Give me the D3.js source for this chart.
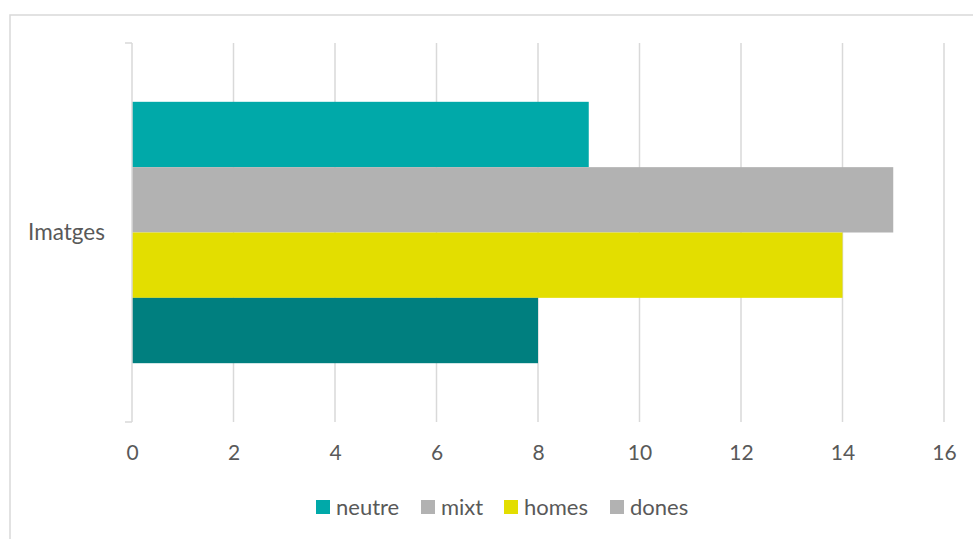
<!DOCTYPE html>
<html>
<head>
<meta charset="utf-8">
<script src="https://cdn.jsdelivr.net/npm/d3@7"></script>
<style>
  html, body { margin: 0; padding: 0; background: #ffffff; }
  svg { display: block; }
  text { font-family: Lato, "Open Sans", sans-serif; fill: #595959; }
</style>
</head>
<body>
<svg id="chart" width="973" height="539"></svg>
<script>
// Chart data
const categories = ["Imatges"];
const seriesNames = ["neutre", "mixt", "homes", "dones"];
const seriesValues = [9, 15, 14, 8];           // one value per series for "Imatges"
const barColors = ["#00A9A9", "#B2B2B2", "#E3DE00", "#007F7F"];
const legendColors = ["#00A9A9", "#B2B2B2", "#E3DE00", "#B2B2B2"];
const xTicks = [0, 2, 4, 6, 8, 10, 12, 14, 16];

const svg = d3.select("#chart");
const W = 973, H = 539;

// outer chart frame
svg.append("rect")
  .attr("x", 10).attr("y", 15)
  .attr("width", W + 10).attr("height", H + 10)
  .attr("fill", "#ffffff")
  .attr("stroke", "#D9D9D9")
  .attr("stroke-width", 1.5);

const plot = { left: 132, right: 944, top: 43, bottom: 422 };

const x = d3.scaleLinear().domain([0, 16]).range([plot.left, plot.right]);
const y = d3.scaleBand().domain(categories).range([plot.top, plot.bottom])
  .paddingInner(0).paddingOuter(0.225);
const ySeries = d3.scaleBand().domain(seriesNames).range([0, y.bandwidth()]).padding(0);

// vertical gridlines
svg.append("g")
  .selectAll("line")
  .data(xTicks.filter(d => d > 0))
  .join("line")
  .attr("x1", d => x(d)).attr("x2", d => x(d))
  .attr("y1", plot.top).attr("y2", plot.bottom)
  .attr("stroke", "#D9D9D9").attr("stroke-width", 1.5);

// x tick labels
const xAxis = d3.axisBottom(x).tickValues(xTicks).tickSize(0).tickPadding(0);
const gx = svg.append("g")
  .attr("transform", `translate(0,${plot.bottom + 38})`)
  .call(xAxis);
gx.select(".domain").remove();
gx.selectAll("text")
  .attr("dy", 0)
  .style("font-size", "21px")
  .style("font-family", "Lato, 'Open Sans', sans-serif")
  .attr("fill", "#595959");

// bars
const group = svg.append("g");
categories.forEach(cat => {
  group.selectAll("rect.bar")
    .data(seriesNames.map((s, i) => ({ s, v: seriesValues[i], c: barColors[i] })))
    .join("rect")
    .attr("class", "bar")
    .attr("x", x(0))
    .attr("y", d => y(cat) + ySeries(d.s))
    .attr("width", d => x(d.v) - x(0))
    .attr("height", ySeries.bandwidth())
    .attr("fill", d => d.c);
});

// category axis with ticks at the band edges
const yAxisG = svg.append("g");
yAxisG.append("line")
  .attr("x1", x(0)).attr("x2", x(0))
  .attr("y1", plot.top).attr("y2", plot.bottom)
  .attr("stroke", "#D9D9D9").attr("stroke-width", 1.5);
[plot.top, plot.bottom].forEach(yy => {
  yAxisG.append("line")
    .attr("x1", x(0) - 7).attr("x2", x(0))
    .attr("y1", yy).attr("y2", yy)
    .attr("stroke", "#D9D9D9").attr("stroke-width", 1.5);
});
yAxisG.selectAll("text.cat")
  .data(categories)
  .join("text")
  .attr("class", "cat")
  .attr("x", 105)
  .attr("y", d => y(d) + y.bandwidth() / 2)
  .attr("dy", "0.35em")
  .attr("text-anchor", "end")
  .style("font-size", "22.5px")
  .text(d => d);

// legend
const legendX = [316, 421, 504, 610];
const legend = svg.append("g");
seriesNames.forEach((name, i) => {
  legend.append("rect")
    .attr("x", legendX[i]).attr("y", 500)
    .attr("width", 14).attr("height", 14)
    .attr("fill", legendColors[i]);
  legend.append("text")
    .attr("x", legendX[i] + 20).attr("y", 507)
    .attr("dy", "0.35em")
    .style("font-size", "22px")
    .text(name);
});
</script>
</body>
</html>
